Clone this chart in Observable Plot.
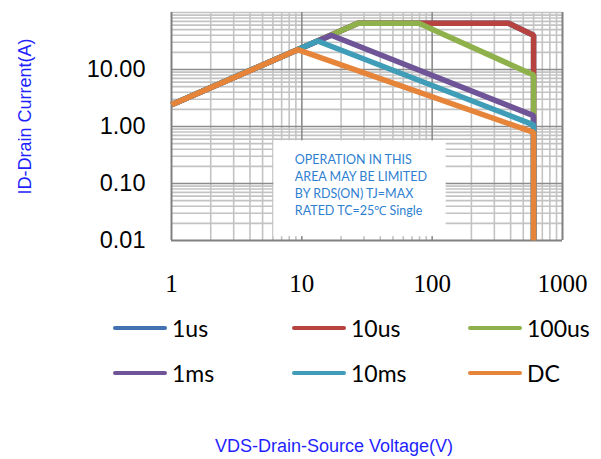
<!DOCTYPE html>
<html>
<head>
<meta charset="utf-8">
<script src="https://cdn.jsdelivr.net/npm/d3@7"></script>
<script src="https://cdn.jsdelivr.net/npm/@observablehq/plot@0.6"></script>
<style>
  html, body { margin: 0; padding: 0; background: #fff; }
  #wrap { position: relative; width: 601px; height: 459px; overflow: hidden; }
  #legend { position: absolute; left: 0; top: 0; width: 601px; height: 459px; pointer-events: none; }
  .item { position: absolute; display: flex; align-items: center; font-family: Lato, "Open Sans", sans-serif; font-size: 23px; color: #000; }
  .sw { width: 54px; height: 4.5px; border-radius: 3px; margin-right: 5px; }
  #xtitle { position: absolute; left: 0; width: 668px; top: 436px; text-align: center; font-family: "Liberation Sans", Arial, sans-serif; font-size: 18px; color: #1f1fff; }
</style>
</head>
<body>
<div id="wrap"><div id="chart"></div><div id="legend"></div><div id="xtitle">VDS-Drain-Source Voltage(V)</div></div>
<script>
// ---- data ----
const seriesNames = ["1us", "10us", "100us", "1ms", "10ms", "DC"];
const seriesColors = ["#4272B2", "#B6433F", "#8FB14C", "#6F5597", "#3F9DB7", "#E6843A"];
const v1us   = [1, 27, 385, 600, 600];
const i1us   = [2.4, 65, 65, 40, 0.01];
const v10us  = [1, 27, 385, 600, 600];
const i10us  = [2.4, 65, 65, 40, 0.01];
const v100us = [1, 27, 79, 600, 600];
const i100us = [2.4, 65, 65, 8.0, 0.01];
const v1ms   = [1, 16.8, 600, 600];
const i1ms   = [2.4, 40, 1.55, 0.01];
const v10ms  = [1, 13.2, 600, 600];
const i10ms  = [2.4, 31.7, 1.07, 0.01];
const vDC    = [1, 9.3, 600, 600];
const iDC    = [2.4, 22.3, 0.79, 0.01];
const xTickValues = [1, 10, 100, 1000];
const yTickValues = [0.01, 0.1, 1, 10];
const yDomain = [0.01, 100];
const xDomain = [1, 1000];
const noteLines = ["OPERATION IN THIS", "AREA MAY BE LIMITED", "BY RDS(ON) TJ=MAX", "RATED TC=25\u2103 Single"];
const noteBox = {x1: 6.1, x2: 128, y1: 0.0117, y2: 0.56};
const yTitle = "ID-Drain Current(A)";

// ---- build tidy table ----
const V = [v1us, v10us, v100us, v1ms, v10ms, vDC];
const I = [i1us, i10us, i100us, i1ms, i10ms, iDC];
const rows = [];
seriesNames.forEach((s, k) => V[k].forEach((v, j) => rows.push({series: s, v, i: I[k][j]})));

const minorX = d3.scaleLog().domain(xDomain).ticks().filter(d => !xTickValues.includes(d));
const minorY = d3.scaleLog().domain(yDomain).ticks().filter(d => !yTickValues.includes(d) && d !== 100);

const chart = Plot.plot({
  width: 601,
  height: 300,
  marginLeft: 171,
  marginRight: 39,
  marginTop: 12,
  marginBottom: 60,
  style: {background: "#fff", overflow: "visible"},
  x: {type: "log", domain: xDomain, axis: null},
  y: {type: "log", domain: yDomain, axis: null},
  color: {domain: seriesNames, range: seriesColors},
  marks: [
    Plot.gridX(minorX, {stroke: "#c3c3c3", strokeOpacity: 1, strokeWidth: 1.6}),
    Plot.gridY(minorY, {stroke: "#c3c3c3", strokeOpacity: 1, strokeWidth: 1.6}),
    Plot.gridY([100], {stroke: "#c3c3c3", strokeOpacity: 1, strokeWidth: 1.6}),
    Plot.gridX([10, 100], {stroke: "#8c8c8c", strokeOpacity: 1, strokeWidth: 1.6}),
    Plot.gridY([0.1, 1, 10], {stroke: "#8c8c8c", strokeOpacity: 1, strokeWidth: 1.6}),
    Plot.rect([noteBox], {x1: "x1", x2: "x2", y1: "y1", y2: "y2", fill: "#fff"}),
    Plot.ruleX([1, 1000], {stroke: "#808080", strokeWidth: 2}),
    Plot.ruleY([0.01], {stroke: "#808080", strokeWidth: 2}),
    Plot.line(rows, {x: "v", y: "i", z: "series", stroke: "series", strokeWidth: 5.5, strokeLinejoin: "miter", strokeLinecap: "butt"}),
    Plot.text([noteLines.join("\n")], {x: noteBox.x1, y: noteBox.y2, dx: 21, dy: 11, textAnchor: "start", lineAnchor: "top", lineHeight: 1.36, fill: "#2f7fd0", fontSize: 12.5, fontFamily: "Lato, sans-serif"}),
    Plot.axisY(yTickValues, {tickSize: 0, tickPadding: 26, fontSize: 23.5, fontFamily: "Liberation Sans, Arial, sans-serif", fill: "#000", tickFormat: d3.format(".2f"), label: null}),
    Plot.axisX(xTickValues, {tickSize: 0, tickPadding: 34, fontSize: 25, fontFamily: "Liberation Serif, Times New Roman, serif", fill: "#000", tickFormat: d => String(d), label: null}),
    Plot.text([yTitle], {frameAnchor: "left", rotate: -90, dx: -146, dy: 68, fill: "#1f1fff", fontSize: 18, fontFamily: "Liberation Sans, Arial, sans-serif"})
  ]
});
document.getElementById("chart").appendChild(chart);

// ---- legend (HTML) ----
const legendPos = [[113, 328], [292, 328], [468, 328], [113, 373], [292, 373], [468, 373]];
const leg = document.getElementById("legend");
seriesNames.forEach((s, k) => {
  const it = document.createElement("div");
  it.className = "item";
  it.style.left = legendPos[k][0] + "px";
  it.style.top = (legendPos[k][1] - 15) + "px";
  it.style.height = "30px";
  const sw = document.createElement("span");
  sw.className = "sw";
  sw.style.background = seriesColors[k];
  const tx = document.createElement("span");
  tx.textContent = s;
  it.appendChild(sw); it.appendChild(tx);
  leg.appendChild(it);
});
</script>
</body>
</html>
